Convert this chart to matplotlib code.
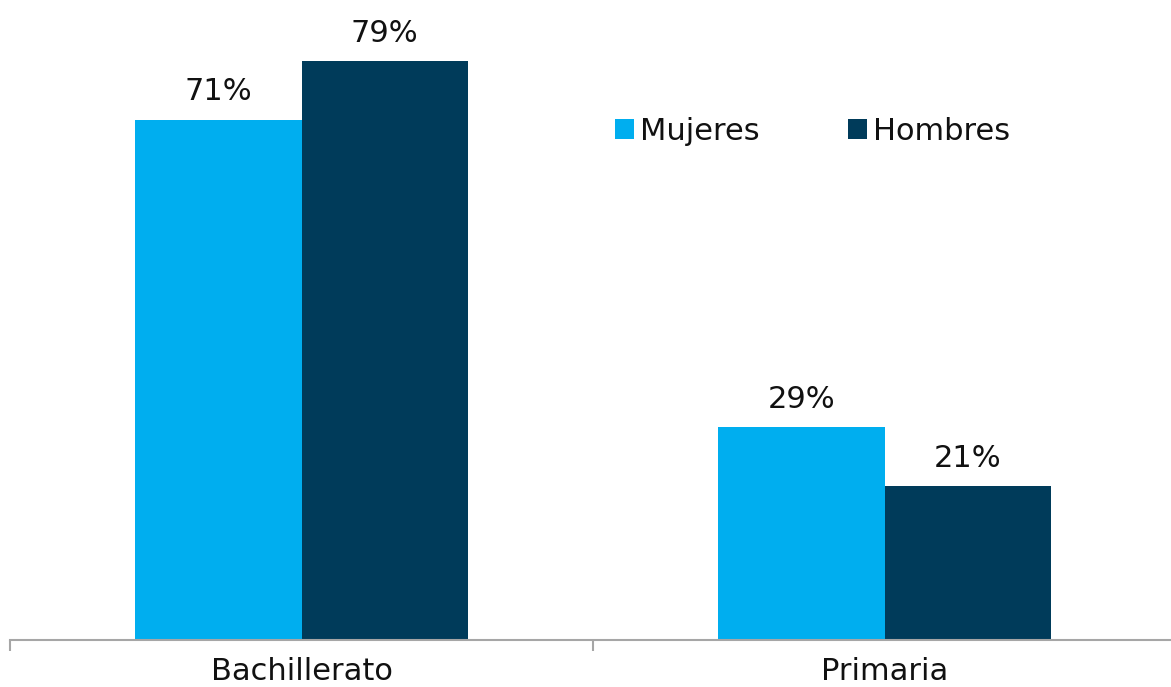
import matplotlib.pyplot as plt
import numpy as np

categorias = ["Bachillerato", "Primaria"]
mujeres = [71, 29]
hombres = [79, 21]
series = ["Mujeres", "Hombres"]

c_muj = "#00AEEF"
c_hom = "#003B5A"

plt.rcParams['font.family'] = ['DejaVu Sans']

fig = plt.figure(figsize=(11.71, 6.87), dpi=100)
ax = fig.add_axes([10 / 1171, 47 / 687, 1161 / 1171, 640 / 687])

x = np.arange(len(categorias))
ancho = 0.285
b1 = ax.bar(x - ancho / 2, mujeres, ancho, color=c_muj, label=series[0])
b2 = ax.bar(x + ancho / 2, hombres, ancho, color=c_hom, label=series[1])

for barras in (b1, b2):
    for b in barras:
        ax.text(b.get_x() + b.get_width() / 2, b.get_height() + 1.8,
                f"{b.get_height():.0f}%", ha="center", va="bottom",
                fontsize=22, color="#111111")

ax.set_xlim(-0.5, 1.5 - 5 / 583)
ax.set_ylim(0, 640 / 7.33)

for s in ["left", "right", "top"]:
    ax.spines[s].set_visible(False)
ax.spines["bottom"].set_color("#A6A6A6")
ax.spines["bottom"].set_linewidth(1.5)
ax.set_yticks([])

ax.set_xticks(x)
ax.set_xticklabels(categorias, fontsize=22, color="#111111")
ax.tick_params(axis="x", which="major", length=0, pad=12)
ax.set_xticks([-0.5, 0.5], minor=True)
ax.tick_params(axis="x", which="minor", length=8, width=1.5, color="#A6A6A6")

ax.legend(loc="center left", bbox_to_anchor=(0.511, 0.795), ncol=2, frameon=False,
          fontsize=22, handlelength=0.6, handleheight=0.6, handletextpad=0.2,
          columnspacing=2.9, labelcolor="#111111", borderaxespad=0)

fig.savefig("out.png", dpi=100)
